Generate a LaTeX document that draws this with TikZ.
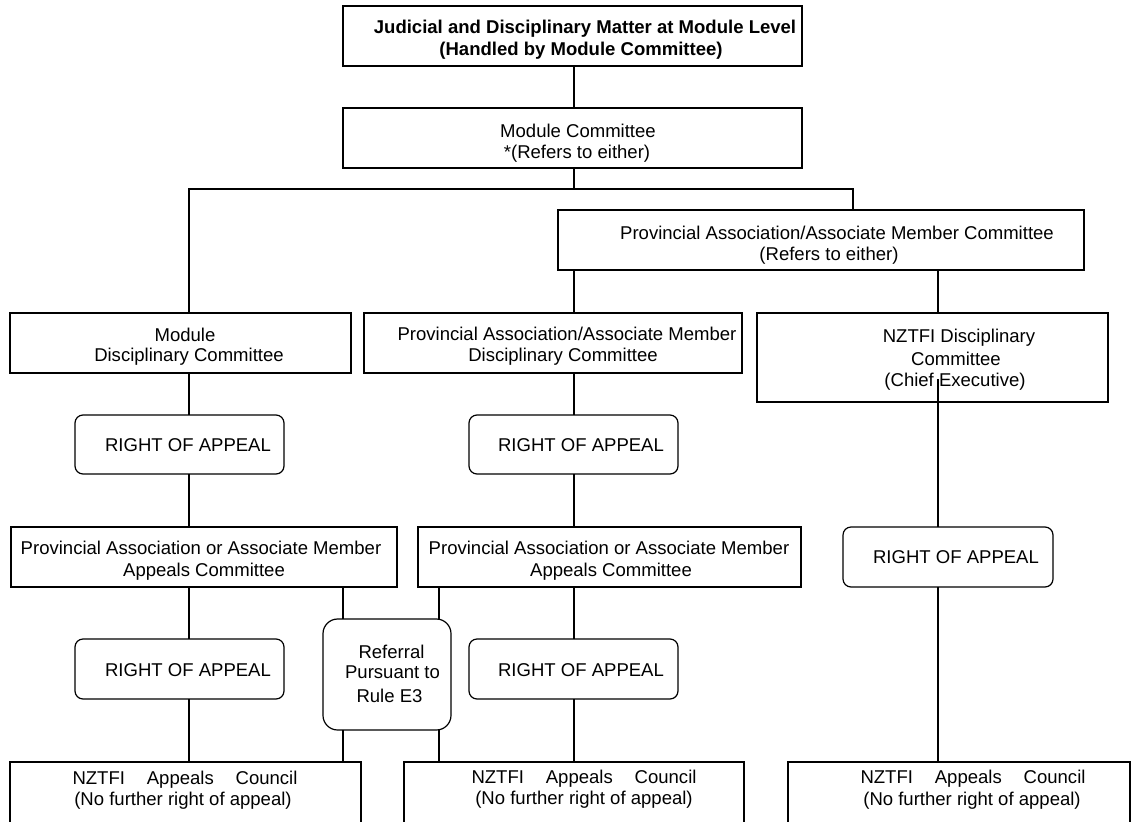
\documentclass[tikz,border=0pt]{standalone}
\usepackage{fontspec}
\setmainfont{Liberation Sans}
\begin{document}
\begin{tikzpicture}[x=0.75pt,y=-0.75pt,
  bx/.style 2 args={draw, line width=0.9pt, inner sep=0pt, outer sep=0pt,
    minimum width=#1*0.75pt, minimum height=#2*0.75pt},
  rbx/.style 2 args={bx={#1}{#2}, rounded corners=6pt},
  refbx/.style 2 args={bx={#1}{#2}, rounded corners=11pt},
  txt/.style={inner sep=0pt, outer sep=0pt, anchor=base,
    font=\fontsize{13.9}{16.7}\selectfont},
  btxt/.style={txt, font=\fontsize{13.9}{16.7}\selectfont\bfseries},
  link/.style={line width=0.9pt}]
\useasboundingbox (0,0) rectangle (1131,821);
\clip (0,0) rectangle (1131,821);

% boxes
\node[bx={459}{60}]  (top)  at (572.5,36)  {};
\node[bx={459}{60}]  (mc)   at (572.5,138) {};
\node[bx={526}{60}]  (pac)  at (821,240)   {};
\node[bx={341}{60}]  (mdc)  at (180.5,343) {};
\node[bx={378}{60}]  (pdc)  at (553,343)   {};
\node[bx={351}{89}]  (ndc)  at (932.5,357.5) {};
\node[rbx={209}{59}] (roa1) at (179.5,444.5) {};
\node[rbx={209}{59}] (roa2) at (573.5,444.5) {};
\node[bx={386}{60}]  (apc1) at (204,557)   {};
\node[bx={383}{60}]  (apc2) at (609.5,557) {};
\node[rbx={210}{60}] (roa3) at (948,557)   {};
\node[rbx={209}{60}] (roa4) at (179.5,669) {};
\node[rbx={209}{60}] (roa5) at (573.5,669) {};
\node[refbx={128}{111}] (ref) at (387,674.5) {};
\node[bx={351}{80}]  (nac1) at (185.5,802) {};
\node[bx={340}{80}]  (nac2) at (574,802)   {};
\node[bx={342}{80}]  (nac3) at (959,802)   {};

% texts
\node[btxt] (t1) at (585,33.5) {Judicial and Disciplinary Matter at Module Level};
\node[btxt] (t2) at (581,55.5) {(Handled by Module Committee)};
\node[txt] (t3) at (578,137.5) {Module Committee};
\node[txt] (t4) at (577,158) {*(Refers to either)};
\node[txt] (t5) at (837,239) {Provincial Association/Associate Member Committee};
\node[txt] (t6) at (829,260) {(Refers to either)};
\node[txt] (t7) at (185,341) {Module};
\node[txt] (t8) at (189,361.5) {Disciplinary Committee};
\node[txt] (t9) at (567,340.5) {Provincial Association/Associate Member};
\node[txt] (t10) at (563,361.5) {Disciplinary Committee};
\node[txt] (t11) at (959,342.5) {NZTFI Disciplinary};
\node[txt] (t12) at (956,365) {Committee};
\node[txt] (t13) at (955,386.5) {(Chief Executive)};
\node[txt] (t14) at (188,451.5) {RIGHT OF APPEAL};
\node[txt] (t15) at (581,451.5) {RIGHT OF APPEAL};
\node[txt] (t16) at (201,554) {Provincial Association or Associate Member};
\node[txt] (t17) at (204,576.5) {Appeals Committee};
\node[txt] (t18) at (609,554) {Provincial Association or Associate Member};
\node[txt] (t19) at (611,576.5) {Appeals Committee};
\node[txt] (t20) at (956,563.5) {RIGHT OF APPEAL};
\node[txt] (t21) at (188,676.5) {RIGHT OF APPEAL};
\node[txt] (t22) at (581,676.5) {RIGHT OF APPEAL};
\node[txt] (t23) at (391.5,658) {Referral};
\node[txt] (t24) at (392.5,678.5) {Pursuant to};
\node[txt] (t25) at (389.5,702) {Rule E3};
\node[txt] (t26) at (185,784) {\makebox[168.75pt][s]{NZTFI Appeals Council}};
\node[txt] (t27) at (183,805.5) {(No further right of appeal)};
\node[txt] (t28) at (584,783) {\makebox[168.75pt][s]{NZTFI Appeals Council}};
\node[txt] (t29) at (584,804.5) {(No further right of appeal)};
\node[txt] (t30) at (973,783.5) {\makebox[168.75pt][s]{NZTFI Appeals Council}};
\node[txt] (t31) at (972,805) {(No further right of appeal)};

% column coordinates
\coordinate (colA) at (189,0);
\coordinate (colB) at (574,0);
\coordinate (colC) at (938,0);
\coordinate (rA) at (343,0);
\coordinate (rB) at (439,0);
\coordinate (hL) at (189,189);
\coordinate (hR) at (853,189);
\coordinate (ndcIn) at (938,379);

% connectors
\draw[link] (top.south -| colB) -- (mc.north -| colB);
\draw[link] (mc.south -| colB) -- (colB |- hL);
\draw[link] (mdc.north -| hL) -- (hL) -- (hR) -- (pac.north -| hR);
\draw[link] (pac.south -| colB) -- (pdc.north -| colB);
\draw[link] (pac.south -| colC) -- (ndc.north -| colC);
\draw[link] (ndcIn) -- (roa3.north -| colC);
\draw[link] (roa3.south -| colC) -- (nac3.north -| colC);

\draw[link] (mdc.south -| colA) -- (roa1.north -| colA);
\draw[link] (roa1.south -| colA) -- (apc1.north -| colA);
\draw[link] (apc1.south -| colA) -- (roa4.north -| colA);
\draw[link] (roa4.south -| colA) -- (nac1.north -| colA);

\draw[link] (pdc.south -| colB) -- (roa2.north -| colB);
\draw[link] (roa2.south -| colB) -- (apc2.north -| colB);
\draw[link] (apc2.south -| colB) -- (roa5.north -| colB);
\draw[link] (roa5.south -| colB) -- (nac2.north -| colB);

\draw[link] (apc1.south -| rA) -- (ref.north -| rA);
\draw[link] (ref.south -| rA) -- (nac1.north -| rA);
\draw[link] (apc2.south -| rB) -- (ref.north -| rB);
\draw[link] (ref.south -| rB) -- (nac2.north -| rB);
\end{tikzpicture}
\end{document}
